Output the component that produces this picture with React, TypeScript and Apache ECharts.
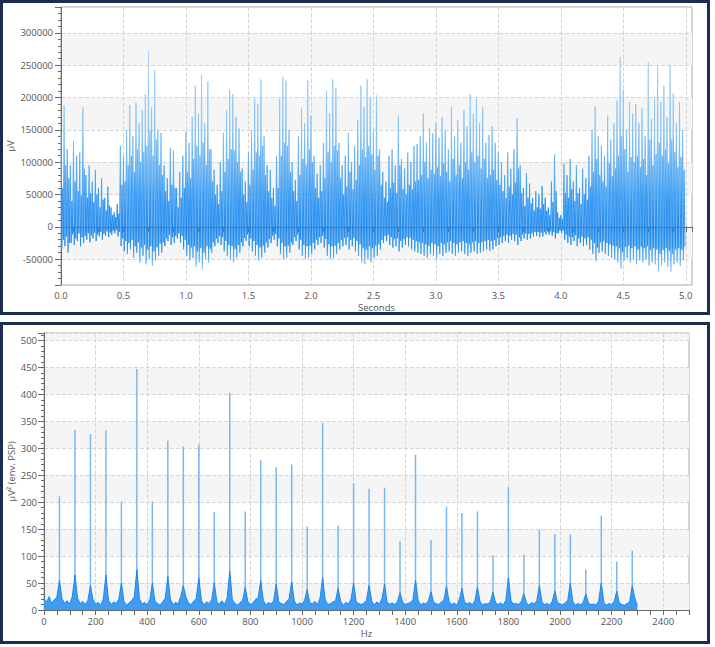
import React, { useEffect, useRef } from "react";
import * as echarts from "echarts";

// ---------- Top panel: raw EMG (µV), read per 0.025 s bin, in thousands of µV ----------
const EMG_BIN_SEC = 0.025;
// highest spike in each bin
const emgPeakK = [
  145, 188, 120, 95, 132, 110, 115, 185, 80, 95, 70, 88, 60, 75, 45, 62, 30, 22, 35, 125,
  110, 150, 188, 140, 192, 160, 180, 205, 272, 185, 242, 150, 145, 95, 75, 122, 118, 60, 85, 110,
  148, 130, 170, 218, 175, 235, 160, 225, 120, 88, 65, 100, 145, 180, 212, 205, 170, 152, 90, 70,
  115, 150, 198, 190, 228, 140, 95, 88, 60, 110, 198, 232, 226, 150, 100, 72, 140, 183, 160, 227,
  172, 110, 82, 95, 130, 210, 175, 228, 215, 130, 95, 110, 145, 100, 125, 165, 218, 185, 228, 200,
  150, 203, 120, 85, 70, 110, 120, 95, 172, 105, 90, 115, 100, 125, 128, 140, 175, 130, 152, 145,
  160, 138, 170, 150, 120, 185, 140, 165, 130, 180, 155, 205, 175, 198, 160, 185, 130, 142, 155, 130,
  115, 100, 80, 115, 90, 120, 168, 95, 60, 83, 67, 45, 55, 50, 63, 45, 30, 70, 112, 22,
  18, 98, 80, 105, 70, 95, 60, 90, 75, 110, 150, 186, 140, 125, 110, 172, 135, 160, 195, 262,
  212, 150, 193, 175, 190, 160, 183, 140, 255, 167, 200, 250, 193, 218, 170, 250, 206, 160, 193, 150,
];
// deepest trough in each bin
const emgTroughK = [
  -35, -30, -40, -25, -28, -22, -30, -25, -20, -24, -18, -22, -15, -20, -14, -16, -12, -10, -15, -30,
  -38, -42, -35, -48, -40, -55, -45, -58, -50, -60, -52, -45, -40, -30, -22, -28, -25, -18, -25, -35,
  -45, -52, -48, -62, -55, -65, -50, -55, -40, -30, -25, -28, -38, -45, -50, -55, -48, -40, -30, -22,
  -30, -38, -45, -52, -48, -40, -32, -25, -20, -30, -42, -50, -48, -40, -28, -22, -35, -45, -50, -48,
  -42, -35, -28, -25, -32, -45, -50, -48, -42, -35, -30, -28, -35, -30, -38, -45, -55, -58, -50, -55,
  -48, -45, -35, -25, -22, -28, -32, -30, -38, -32, -28, -30, -35, -38, -40, -42, -45, -48, -42, -45,
  -50, -42, -45, -40, -38, -42, -45, -40, -38, -42, -45, -40, -38, -42, -40, -38, -35, -37, -35, -30,
  -28, -25, -22, -25, -20, -22, -28, -22, -18, -20, -18, -15, -14, -16, -15, -12, -12, -14, -18, -10,
  -10, -20, -25, -28, -22, -30, -25, -30, -28, -35, -42, -53, -40, -38, -42, -45, -48, -50, -55, -65,
  -52, -48, -55, -50, -58, -52, -55, -50, -60, -55, -58, -70, -60, -55, -62, -70, -58, -55, -60, -52,
];
// second highest spike in each bin
const emgSecondK = [
  60, 95, 75, 40, 70, 55, 48, 90, 45, 52, 38, 50, 30, 42, 25, 33, 18, 15, 20, 65,
  70, 95, 110, 85, 120, 100, 115, 125, 150, 110, 135, 95, 80, 55, 40, 65, 60, 30, 45, 60,
  85, 75, 105, 125, 110, 130, 95, 120, 70, 50, 35, 55, 85, 105, 120, 118, 100, 85, 50, 38,
  65, 88, 115, 110, 125, 80, 55, 45, 32, 60, 110, 130, 125, 85, 55, 40, 80, 105, 95, 120,
  100, 60, 45, 55, 75, 115, 100, 125, 118, 75, 50, 62, 85, 58, 72, 95, 120, 108, 125, 112,
  88, 110, 65, 45, 38, 60, 68, 52, 95, 58, 50, 65, 58, 70, 72, 80, 100, 75, 88, 82,
  92, 78, 98, 85, 70, 105, 80, 95, 75, 100, 88, 115, 100, 110, 90, 105, 75, 80, 88, 72,
  65, 55, 45, 62, 50, 68, 90, 52, 32, 45, 36, 25, 30, 28, 35, 25, 18, 38, 55, 14,
  12, 52, 45, 58, 40, 52, 35, 50, 42, 62, 85, 105, 80, 70, 62, 98, 78, 90, 110, 140,
  120, 85, 108, 100, 110, 92, 105, 80, 135, 95, 112, 130, 110, 120, 98, 135, 115, 92, 108, 88,
];
// second deepest trough in each bin
const emgSecondTroughK = [
  -20, -15, -25, -12, -18, -10, -16, -14, -10, -13, -9, -12, -8, -11, -7, -9, -6, -5, -8, -18,
  -22, -25, -20, -30, -24, -32, -28, -35, -30, -38, -32, -26, -24, -18, -12, -16, -14, -10, -14, -20,
  -28, -32, -30, -38, -33, -40, -30, -34, -24, -18, -14, -16, -22, -28, -30, -34, -28, -24, -17, -12,
  -18, -22, -28, -32, -29, -24, -19, -14, -11, -18, -25, -30, -29, -24, -16, -12, -20, -28, -30, -29,
  -25, -20, -16, -14, -19, -27, -30, -29, -25, -20, -17, -16, -20, -17, -22, -27, -33, -35, -30, -33,
  -29, -27, -20, -14, -12, -16, -19, -17, -22, -19, -16, -17, -20, -22, -24, -25, -27, -29, -25, -27,
  -30, -25, -27, -24, -22, -25, -27, -24, -22, -25, -27, -24, -22, -25, -24, -22, -20, -22, -20, -17,
  -16, -14, -12, -14, -11, -12, -16, -12, -10, -11, -10, -8, -8, -9, -8, -7, -7, -8, -10, -6,
  -6, -12, -15, -16, -13, -18, -15, -18, -16, -20, -25, -32, -24, -22, -25, -27, -29, -30, -33, -39,
  -31, -29, -33, -30, -35, -31, -33, -30, -36, -33, -35, -42, -36, -33, -37, -42, -35, -33, -36, -31,
];

// ---------- Bottom panel: envelope power spectrum ----------
const SPEC_STEP_HZ = 10;
const spectrumFloor = [
  22, 14, 25, 12, 19, 24,
  55, 20, 13, 17, 11, 26,
  65, 22, 12, 16, 10, 18,
  45, 19, 11, 14, 9, 21,
  65, 18, 10, 15, 12, 20,
  50, 16, 9, 13, 18, 24,
  75, 21, 11, 14, 10, 19,
  50, 17, 12, 9, 15, 22,
  62, 20, 10, 14, 11, 25,
  45, 24, 13, 10, 16, 21,
  60, 18, 9, 15, 12, 19,
  50, 15, 11, 17, 10, 23,
  72, 19, 12, 9, 14, 18,
  42, 16, 10, 13, 20, 22,
  55, 18, 9, 14, 11, 17,
  48, 15, 12, 10, 16, 21,
  52, 17, 9, 13, 11, 18,
  38, 14, 11, 16, 10, 22,
  60, 19, 10, 12, 15, 17,
  40, 16, 9, 14, 11, 20,
  50, 15, 12, 10, 13, 18,
  46, 17, 9, 15, 11, 21,
  48, 14, 11, 13, 10, 16,
  32, 15, 10, 12, 14, 19,
  55, 18, 9, 13, 11, 17,
  34, 14, 12, 10, 15, 18,
  44, 16, 10, 13, 9, 20,
  40, 15, 11, 14, 10, 17,
  42, 16, 9, 12, 11, 15,
  33, 14, 10, 13, 9, 18,
  60, 17, 11, 12, 10, 16,
  30, 13, 9, 14, 11, 17,
  45, 15, 10, 12, 9, 16,
  35, 14, 11, 10, 13, 18,
  50, 15, 9, 12, 10, 14,
  30, 13, 10, 11, 9, 17,
  50, 14, 9, 12, 10, 16,
  35, 13, 10, 9, 12, 15,
  45, 22, 8,
];
const harmonicHz = [
  60, 120, 180, 240, 300, 360, 420, 480, 540, 600, 660, 720, 780, 840, 900, 960, 1020, 1080, 1140,
  1200, 1260, 1320, 1380, 1440, 1500, 1560, 1620, 1680, 1740, 1800, 1860, 1920, 1980, 2040, 2100,
  2160, 2220, 2280,
];
const harmonicPeak = [
  211, 334, 326, 333, 201, 447, 201, 314, 303, 307, 182, 403, 183, 278, 265, 270, 155, 347, 157,
  235, 225, 227, 127, 288, 130, 192, 180, 183, 101, 228, 103, 149, 141, 140, 75, 175, 90, 110,
];

const AXIS_COLOR = "#6a6a6a";
const LABEL_COLOR = "#555";
const SPLIT_COLOR = "#d6d6d6";
const BAND_COLOR = "#f5f5f5";
const FONT = "Open Sans";

function tickAxis(gridIndex: number, min: number, max: number, interval: number, len: number, pos: string) {
  return {
    gridIndex,
    type: "value",
    position: pos,
    min,
    max,
    interval,
    axisLine: { show: false },
    axisLabel: { show: false },
    splitLine: { show: false },
    axisTick: { show: true, length: len, lineStyle: { color: AXIS_COLOR } },
  };
}

export default function App() {
  const ref = useRef<HTMLDivElement>(null);
  useEffect(() => {
    if (!ref.current) return;
    const chart = echarts.init(ref.current, undefined, { renderer: "svg" });

    const emgData: number[][] = [];
    emgPeakK.forEach((p, i) => {
      const t = i * EMG_BIN_SEC;
      const q = EMG_BIN_SEC / 4;
      emgData.push([t, p * 1000]);
      emgData.push([t + q, emgTroughK[i] * 1000]);
      emgData.push([t + 2 * q, emgSecondK[i] * 1000]);
      emgData.push([t + 3 * q, emgSecondTroughK[i] * 1000]);
    });
    const floorData = spectrumFloor.map((v, i) => [i * SPEC_STEP_HZ, v]);
    const peakData = harmonicHz.map((f, i) => [f, harmonicPeak[i]]);

    const gradient = new echarts.graphic.LinearGradient(0, 0, 0, 1, [
      { offset: 0, color: "#a9d4fa" },
      { offset: 0.35, color: "#86c2f7" },
      { offset: 0.55, color: "#53a9f4" },
      { offset: 0.68, color: "#2a92f0" },
      { offset: 0.8, color: "#1a86ec" },
      { offset: 0.88, color: "#2590ef" },
      { offset: 0.95, color: "#6ab5f6" },
      { offset: 1, color: "#9ccffa" },
    ]);

    const nameStyle = { color: LABEL_COLOR, fontSize: 9.5, fontFamily: FONT, lineHeight: 11 };

    chart.setOption({
      animation: false,
      backgroundColor: "#ffffff",
      textStyle: { fontFamily: FONT },
      grid: [
        { left: 61, top: 7, width: 631, height: 278, show: true, borderColor: "#a8a8a8", borderWidth: 1, backgroundColor: "rgba(0,0,0,0)", outerBoundsMode: "none", containLabel: false },
        { left: 44, top: 333, width: 645, height: 277, show: true, borderColor: "#a8a8a8", borderWidth: 1, backgroundColor: "rgba(0,0,0,0)", outerBoundsMode: "none", containLabel: false },
      ],
      xAxis: [
        {
          gridIndex: 0,
          type: "value",
          position: "bottom",
          min: 0,
          max: 5.05,
          interval: 0.5,
          name: "Seconds",
          nameLocation: "middle",
          nameGap: 17,
          nameTextStyle: nameStyle,
          axisLine: { lineStyle: { color: AXIS_COLOR } },
          axisTick: { length: 5, lineStyle: { color: AXIS_COLOR } },
          axisLabel: {
            color: LABEL_COLOR,
            fontSize: 9.5,
            lineHeight: 11,
            margin: 5,
            formatter: (v: number) => (Math.abs(v * 2 - Math.round(v * 2)) < 1e-6 ? v.toFixed(1) : ""),
          },
          splitLine: { show: true, lineStyle: { type: "dashed", color: SPLIT_COLOR } },
        },
        tickAxis(0, 0, 5.05, 0.1, 5, "bottom"),
        {
          gridIndex: 1,
          type: "value",
          position: "bottom",
          min: 0,
          max: 2500,
          interval: 200,
          name: "Hz",
          nameLocation: "middle",
          nameGap: 18,
          nameTextStyle: nameStyle,
          axisLine: { lineStyle: { color: AXIS_COLOR } },
          axisTick: { length: 5, lineStyle: { color: AXIS_COLOR } },
          axisLabel: {
            color: LABEL_COLOR,
            fontSize: 9.5,
            lineHeight: 11,
            margin: 6,
            formatter: (v: number) => (v % 200 === 0 ? String(v) : ""),
          },
          splitLine: { show: true, lineStyle: { type: "dashed", color: SPLIT_COLOR } },
        },
        tickAxis(1, 0, 2500, 50, 5, "bottom"),
      ],
      yAxis: [
        {
          gridIndex: 0,
          type: "value",
          position: "left",
          min: -90000,
          max: 340000,
          splitNumber: 8,
          minInterval: 50000,
          maxInterval: 50000,
          name: "µV",
          nameLocation: "middle",
          nameGap: 45,
          nameRotate: 90,
          nameMoveOverlap: false,
          nameTextStyle: nameStyle,
          axisLine: { show: true, lineStyle: { color: AXIS_COLOR } },
          axisTick: { show: true, length: 6, lineStyle: { color: AXIS_COLOR } },
          axisLabel: {
            color: LABEL_COLOR,
            fontSize: 9.5,
            margin: 8,
            formatter: (v: number) => (v % 50000 === 0 ? String(v) : ""),
          },
          splitLine: { show: true, lineStyle: { type: "dashed", color: SPLIT_COLOR } },
          splitArea: { show: true, areaStyle: { color: ["rgba(255,255,255,0)", BAND_COLOR] } },
        },
        tickAxis(0, -90000, 340000, 10000, 3, "left"),
        {
          gridIndex: 1,
          type: "value",
          position: "left",
          min: 0,
          max: 514,
          splitNumber: 10,
          minInterval: 50,
          maxInterval: 50,
          name: "µV² (env. PSP)",
          nameLocation: "middle",
          nameGap: 27,
          nameRotate: 90,
          nameMoveOverlap: false,
          nameTextStyle: nameStyle,
          axisLine: { show: true, lineStyle: { color: AXIS_COLOR } },
          axisTick: { show: true, length: 6, lineStyle: { color: AXIS_COLOR } },
          axisLabel: {
            color: LABEL_COLOR,
            fontSize: 9.5,
            margin: 7,
            formatter: (v: number) => (v % 50 === 0 ? String(v) : ""),
          },
          splitLine: { show: true, lineStyle: { type: "dashed", color: SPLIT_COLOR } },
          splitArea: { show: true, areaStyle: { color: [BAND_COLOR, "rgba(255,255,255,0)"] } },
        },
        tickAxis(1, 0, 514, 10, 3, "left"),
      ],
      series: [
        {
          type: "line",
          xAxisIndex: 0,
          yAxisIndex: 0,
          data: emgData,
          showSymbol: false,
          symbol: "none",
          lineStyle: { width: 1, color: gradient, opacity: 0.92 },
          z: 3,
        },
        {
          type: "bar",
          xAxisIndex: 2,
          yAxisIndex: 2,
          data: peakData,
          barWidth: 1.5,
          itemStyle: { color: "#7ab7ef" },
          z: 2,
        },
        {
          type: "line",
          xAxisIndex: 2,
          yAxisIndex: 2,
          data: floorData,
          showSymbol: false,
          symbol: "none",
          lineStyle: { width: 1, color: "#1f86ea" },
          areaStyle: { color: "#3f9cf1", opacity: 1 },
          z: 3,
        },
      ],
      graphic: [
        {
          type: "rect",
          z: 100,
          shape: { x: 1.5, y: 1.5, width: 707, height: 312 },
          style: { fill: "none", stroke: "#1e2c55", lineWidth: 3 },
        },
        {
          type: "rect",
          z: 100,
          shape: { x: 1.5, y: 323.5, width: 707, height: 319 },
          style: { fill: "none", stroke: "#1e2c55", lineWidth: 3 },
        },
      ],
    });
    return () => chart.dispose();
  }, []);

  return (
    <div
      ref={ref}
      style={{ position: "fixed", left: 0, top: 0, width: 715, height: 647, background: "#fff" }}
    />
  );
}
